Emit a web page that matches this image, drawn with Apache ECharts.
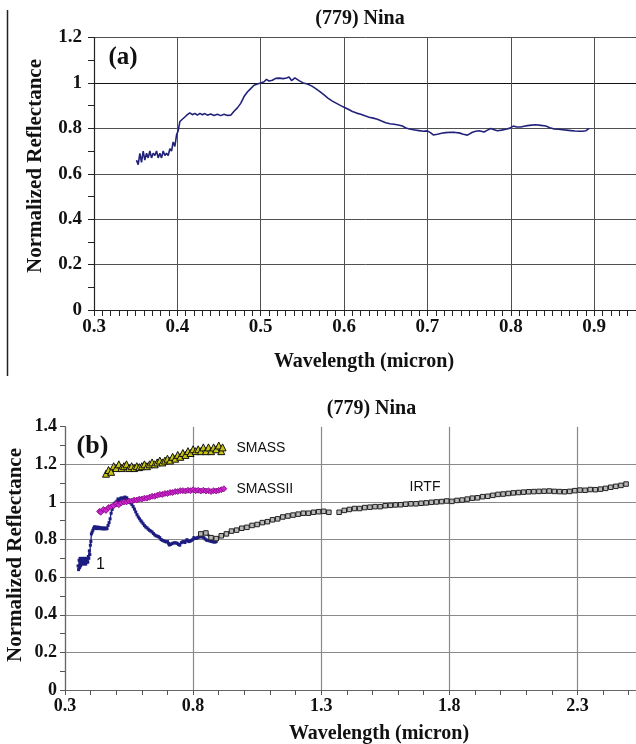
<!DOCTYPE html>
<html><head><meta charset="utf-8">
<script src="https://cdn.jsdelivr.net/npm/echarts@6/dist/echarts.min.js"></script>
<style>html,body{margin:0;padding:0;background:#fff}#c{width:636px;height:744px}</style>
</head><body><div id="c"></div>
<script>
// ---------- data ----------
const ticksAx = [0.3, 0.4, 0.5, 0.6, 0.7, 0.8, 0.9];
const ticksAy = [0, 0.2, 0.4, 0.6, 0.8, 1, 1.2];
const ticksBx = [0.3, 0.8, 1.3, 1.8, 2.3];
const ticksBy = [0, 0.2, 0.4, 0.6, 0.8, 1, 1.2, 1.4];

const spec1X = [0.351,0.353,0.355,0.357,0.359,0.361,0.363,0.365,0.367,0.369,0.371,0.373,0.375,0.377,0.379,0.381,0.383,0.385,0.387,0.389,
0.391,0.393,0.395,0.397,0.399,0.401,0.403,0.406,0.409,0.412,0.415,0.418,0.421,0.424,0.427,0.430,0.433,0.436,0.440,0.444,
0.448,0.452,0.456,0.460,0.464,0.468,0.472,0.476,0.480,0.484,0.488,0.492,0.496,0.500,0.504,0.507,0.510,0.514,0.518,0.522,
0.527,0.531,0.534,0.537,0.541,0.546,0.551,0.556,0.561,0.566,0.571,0.576,0.581,0.586,0.591,0.596,0.600,0.605,0.610,0.615,
0.620,0.625,0.630,0.635,0.640,0.645,0.650,0.655,0.660,0.665,0.670,0.675,0.680,0.685,0.690,0.695,0.700,0.704,0.707,0.712,
0.717,0.722,0.728,0.733,0.738,0.743,0.748,0.754,0.758,0.762,0.768,0.772,0.776,0.780,0.784,0.789,0.794,0.799,0.803,0.807,
0.812,0.816,0.820,0.825,0.830,0.836,0.842,0.847,0.852,0.857,0.862,0.867,0.872,0.877,0.882,0.886,0.890,0.894];
const spec1Y = [0.66,0.64,0.69,0.65,0.70,0.66,0.69,0.67,0.70,0.67,0.69,0.68,0.70,0.67,0.69,0.67,0.70,0.68,0.69,0.68,
0.71,0.70,0.74,0.72,0.77,0.79,0.83,0.84,0.85,0.86,0.868,0.86,0.866,0.858,0.866,0.86,0.865,0.858,0.863,0.857,
0.862,0.856,0.862,0.857,0.858,0.875,0.89,0.91,0.94,0.96,0.975,0.99,0.995,1.0,1.005,1.016,1.008,1.012,1.02,1.021,
1.019,1.022,1.026,1.01,1.022,1.01,1.0,0.995,0.987,0.975,0.962,0.947,0.932,0.92,0.91,0.9,0.893,0.884,0.874,0.867,
0.862,0.855,0.849,0.845,0.84,0.832,0.825,0.82,0.818,0.815,0.81,0.8,0.796,0.793,0.79,0.787,0.789,0.78,0.771,0.774,
0.778,0.781,0.783,0.782,0.78,0.774,0.77,0.783,0.787,0.789,0.784,0.792,0.799,0.794,0.789,0.792,0.796,0.801,0.81,0.806,
0.806,0.809,0.812,0.814,0.816,0.813,0.81,0.803,0.797,0.796,0.794,0.792,0.79,0.788,0.787,0.787,0.789,0.80];

const smassX = [0.46,0.47,0.48,0.49,0.50,0.51,0.52,0.53,0.54,0.55,0.56,0.57,0.58,0.59,0.60,0.61,0.62,0.63,0.64,0.65,0.66,0.67,0.68,0.69,
0.70,0.71,0.72,0.73,0.74,0.75,0.76,0.77,0.78,0.79,0.80,0.81,0.82,0.83,0.84,0.85,0.86,0.87,0.88,0.89,0.90,0.91,0.915];
const smassY = [1.15,1.17,1.16,1.19,1.18,1.20,1.18,1.19,1.20,1.18,1.19,1.18,1.19,1.185,1.19,1.20,1.19,1.20,1.21,1.20,1.21,1.22,1.21,1.22,
1.23,1.22,1.24,1.23,1.25,1.24,1.26,1.25,1.27,1.26,1.28,1.27,1.28,1.27,1.29,1.27,1.29,1.27,1.29,1.28,1.30,1.27,1.29];

const smass2X = [0.435,0.44,0.45,0.46,0.47,0.48,0.49,0.50,0.51,0.52,0.53,0.54,0.55,0.56,0.57,0.58,0.59,0.60,0.61,0.62,0.63,0.64,0.65,0.66,
0.67,0.68,0.69,0.70,0.71,0.72,0.73,0.74,0.75,0.76,0.77,0.78,0.79,0.80,0.81,0.82,0.83,0.84,0.85,0.86,0.87,0.88,0.89,0.90,0.91,0.92];
const smass2Y = [0.95,0.945,0.96,0.955,0.97,0.975,0.98,0.99,0.985,0.995,1.0,1.0,1.005,1.005,1.01,1.01,1.015,1.015,1.02,1.02,1.025,1.03,1.03,1.035,
1.04,1.04,1.045,1.045,1.05,1.05,1.055,1.055,1.06,1.06,1.058,1.062,1.06,1.065,1.06,1.062,1.058,1.062,1.058,1.06,1.055,1.06,1.058,1.062,1.065,1.07];

const irtfX = [0.83,0.85,0.87,0.89,0.91,0.93,0.95,0.97,0.99,1.01,1.03,1.05,1.07,1.09,1.11,1.13,1.15,1.17,1.19,1.21,1.23,1.25,1.27,1.29,1.31,1.33,
1.35,1.37,1.39,1.41,1.43,1.45,1.47,1.49,1.51,1.53,1.55,1.57,1.59,1.61,1.63,1.65,1.67,1.69,1.71,1.73,1.75,1.77,1.79,1.81,1.83,1.85,1.87,1.89,
1.91,1.93,1.95,1.97,1.99,2.01,2.03,2.05,2.07,2.09,2.11,2.13,2.15,2.17,2.19,2.21,2.23,2.25,2.27,2.29,2.31,2.33,2.35,2.37,2.39,2.41,2.43,2.45,2.47,2.49];
const irtfY = [0.83,0.835,0.81,0.805,0.82,0.83,0.845,0.85,0.86,0.865,0.875,0.88,0.89,0.895,0.905,0.91,0.92,0.925,0.93,0.935,0.94,0.94,0.945,0.948,0.95,0.945,
null,0.945,0.955,0.96,0.965,0.965,0.97,0.972,0.975,0.975,0.98,0.982,0.984,0.985,0.988,0.99,0.99,0.993,0.995,0.998,1.0,1.002,1.005,1.003,1.008,1.01,1.015,1.02,
1.022,1.028,1.03,1.035,1.04,1.042,1.045,1.048,1.05,1.052,1.054,1.055,1.056,1.057,1.058,1.056,1.055,1.054,1.056,1.06,1.063,1.062,1.066,1.065,1.068,1.072,1.078,1.083,1.088,1.095];

// ---------- helpers ----------
const pairs = (xs, ys) => xs.map((x, i) => [x, ys[i] === null ? '-' : ys[i]]);
const isIn = (list, v) => list.some(t => Math.abs(t - v) < 1e-6);
const fmt = list => v => isIn(list, v) ? String(+(+v).toFixed(2)) : '';

const serif = 'Liberation Serif';
const sans = 'Liberation Sans';
const chart = echarts.init(document.getElementById('c'), null, {renderer: 'canvas'});

// (a): 0.3..0.95 visible; axis runs to 1.0 just off the page.  (b): 0.3..2.5 visible, axis to 2.8 off page.
const option = {
  backgroundColor: '#fff',
  animation: false,
  grid: [
    {left: 94, top: 37.5, width: 583.5, height: 272.5, outerBoundsMode: 'none', containLabel: false},
    {left: 65, top: 426.7, width: 640.5, height: 263.3, outerBoundsMode: 'none', containLabel: false}
  ],
  xAxis: [
    {
      gridIndex: 0, type: 'value', min: 0.3, max: 1.0, interval: 0.1,
      axisLine: {lineStyle: {color: '#222', width: 1.2}},
      axisTick: {show: true, length: 6, lineStyle: {color: '#222', width: 1}},
      minorTick: {show: true, splitNumber: 10, length: 6, lineStyle: {color: '#222', width: 1}},
      axisLabel: {formatter: fmt(ticksAx), color: '#111', fontFamily: serif, fontWeight: 'bold', fontSize: 19, margin: 8},
      splitLine: {show: true, lineStyle: {color: '#505050', width: 1}}
    },
    {
      gridIndex: 1, type: 'value', min: 0.3, max: 2.8, interval: 0.5,
      axisLine: {lineStyle: {color: '#666', width: 1.2}},
      axisTick: {show: true, length: 5, lineStyle: {color: '#555', width: 1}},
      minorTick: {show: true, splitNumber: 5, length: 5, lineStyle: {color: '#555', width: 1}},
      axisLabel: {formatter: fmt(ticksBx), color: '#111', fontFamily: serif, fontWeight: 'bold', fontSize: 18, margin: 7},
      splitLine: {show: true, lineStyle: {color: '#8a8a8a', width: 1.2}}
    }
  ],
  yAxis: [
    {
      gridIndex: 0, type: 'value', min: 0, max: 1.2, interval: 0.2,
      axisLine: {show: true, lineStyle: {color: '#222', width: 1.2}},
      axisTick: {show: true, length: 6, lineStyle: {color: '#222'}},
      minorTick: {show: true, splitNumber: 2, length: 6, lineStyle: {color: '#222', width: 1}},
      axisLabel: {formatter: fmt(ticksAy), color: '#111', fontFamily: serif, fontWeight: 'bold', fontSize: 19, margin: 12},
      splitLine: {show: true, lineStyle: {color: ['#505050', '#505050', '#505050', '#505050', '#505050', '#111', '#505050'], width: 1}}
    },
    {
      gridIndex: 1, type: 'value', min: 0, max: 1.4, interval: 0.2,
      axisLine: {show: true, lineStyle: {color: '#666', width: 1.2}},
      axisTick: {show: true, length: 5, lineStyle: {color: '#555'}},
      minorTick: {show: true, splitNumber: 2, length: 5, lineStyle: {color: '#555', width: 1}},
      axisLabel: {formatter: fmt(ticksBy), color: '#111', fontFamily: serif, fontWeight: 'bold', fontSize: 18, margin: 8},
      splitLine: {show: true, lineStyle: {color: ['#8a8a8a', '#8a8a8a', '#8a8a8a', '#7a7a7a', '#8a8a8a', '#8a8a8a', '#8a8a8a', 'rgba(0,0,0,0)'], width: 1.2}}
    }
  ],
  series: [
    {
      name: 'spectrum a', type: 'line', xAxisIndex: 0, yAxisIndex: 0,
      data: pairs(spec1X, spec1Y), showSymbol: false,
      lineStyle: {color: '#22227a', width: 1.6}
    },
    {
      name: '1', type: 'line', xAxisIndex: 1, yAxisIndex: 1,
      data: pairs(spec1X, spec1Y), symbol: 'rect', symbolSize: 3, showSymbol: true,
      itemStyle: {color: '#1c1c80'}, lineStyle: {color: '#1c1c80', width: 1.3},
      markPoint: {symbol: 'rect', symbolSize: 0, data: [{coord: [0.421, 0.668]}],
        label: {show: true, position: 'right', distance: 0, formatter: '1', fontFamily: sans, fontSize: 16, color: '#111'}}
    },
    {
      name: 'SMASSII', type: 'line', xAxisIndex: 1, yAxisIndex: 1,
      data: pairs(smass2X, smass2Y), symbol: 'diamond', symbolSize: 6, showSymbol: true,
      itemStyle: {color: '#d024d0', borderColor: '#7a087a', borderWidth: 0.8},
      lineStyle: {color: '#7a087a', width: 1.4},
      markPoint: {symbol: 'rect', symbolSize: 0, data: [{coord: [0.969, 1.069]}],
        label: {show: true, position: 'right', distance: 0, formatter: 'SMASSII', fontFamily: sans, fontSize: 14, color: '#111'}}
    },
    {
      name: 'SMASS', type: 'line', xAxisIndex: 1, yAxisIndex: 1,
      data: pairs(smassX, smassY), symbol: 'triangle', symbolSize: 7, showSymbol: true,
      itemStyle: {color: '#c8c414', borderColor: '#111', borderWidth: 1},
      lineStyle: {color: '#111', width: 2},
      markPoint: {symbol: 'rect', symbolSize: 0, data: [{coord: [0.969, 1.287]}],
        label: {show: true, position: 'right', distance: 0, formatter: 'SMASS', fontFamily: sans, fontSize: 14, color: '#111'}}
    },
    {
      name: 'IRTF', type: 'line', xAxisIndex: 1, yAxisIndex: 1,
      data: pairs(irtfX, irtfY), symbol: 'rect', symbolSize: 4.5, showSymbol: true, connectNulls: false,
      itemStyle: {color: '#b8b8b8', borderColor: '#222', borderWidth: 1},
      lineStyle: {color: '#2a2a2a', width: 2.5},
      markPoint: {symbol: 'rect', symbolSize: 0, data: [{coord: [1.645, 1.081]}],
        label: {show: true, position: 'right', distance: 0, formatter: 'IRTF', fontFamily: sans, fontSize: 14, color: '#111'}}
    }
  ],
  graphic: [
    {type: 'line', shape: {x1: 7.5, y1: 10, x2: 7.5, y2: 376}, style: {stroke: '#222', lineWidth: 1.5}},
    {type: 'text', x: 360, y: 19, style: {text: '(779) Nina', font: 'bold 20px "Liberation Serif"', fill: '#111', textAlign: 'center', textVerticalAlign: 'middle'}},
    {type: 'text', x: 123, y: 58, style: {text: '(a)', font: 'bold 25px "Liberation Serif"', fill: '#111', textAlign: 'center', textVerticalAlign: 'middle'}},
    {type: 'text', x: 36, y: 166, rotation: Math.PI / 2, style: {text: 'Normalized Reflectance', font: 'bold 21px "Liberation Serif"', fill: '#111', textAlign: 'center', textVerticalAlign: 'middle'}},
    {type: 'text', x: 364, y: 362, style: {text: 'Wavelength (micron)', font: 'bold 20px "Liberation Serif"', fill: '#111', textAlign: 'center', textVerticalAlign: 'middle'}},
    {type: 'text', x: 371.5, y: 409, style: {text: '(779) Nina', font: 'bold 20px "Liberation Serif"', fill: '#111', textAlign: 'center', textVerticalAlign: 'middle'}},
    {type: 'text', x: 92.5, y: 446, style: {text: '(b)', font: 'bold 26px "Liberation Serif"', fill: '#111', textAlign: 'center', textVerticalAlign: 'middle'}},
    {type: 'text', x: 15.5, y: 555, rotation: Math.PI / 2, style: {text: 'Normalized Reflectance', font: 'bold 21px "Liberation Serif"', fill: '#111', textAlign: 'center', textVerticalAlign: 'middle'}},
    {type: 'text', x: 379, y: 734, style: {text: 'Wavelength (micron)', font: 'bold 20px "Liberation Serif"', fill: '#111', textAlign: 'center', textVerticalAlign: 'middle'}}
  ]
};
chart.setOption(option);
</script>
</body></html>
